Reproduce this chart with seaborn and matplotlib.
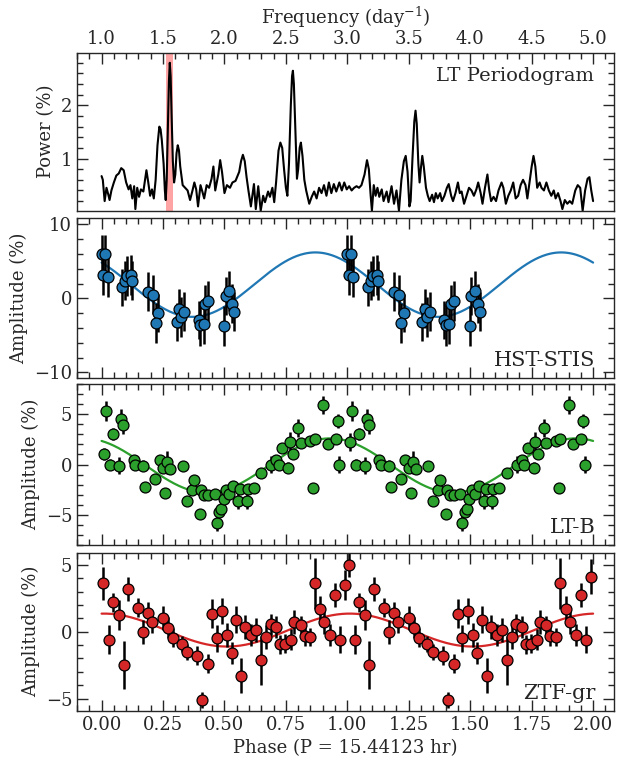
import numpy as np
import pandas as pd
import matplotlib
matplotlib.use("Agg")
import matplotlib.pyplot as plt
import seaborn as sns
from matplotlib.ticker import MultipleLocator, FormatStrFormatter

sns.set_style("ticks")
plt.rcParams['font.family'] = ['DejaVu Serif']
plt.rcParams['mathtext.fontset'] = 'dejavuserif'
plt.rcParams['xtick.direction'] = 'in'
plt.rcParams['ytick.direction'] = 'in'

# ---------------- data ----------------
# LT periodogram (frequency in 1/day, power in %)
pg_freq = [
    1.000, 1.010, 1.025, 1.040, 1.055, 1.065, 1.080, 1.100, 1.120, 1.140, 1.160, 1.180,
    1.200, 1.220, 1.235, 1.250, 1.265, 1.275, 1.290, 1.305, 1.320, 1.340, 1.365, 1.380,
    1.395, 1.410, 1.425, 1.440, 1.455, 1.470, 1.480, 1.490, 1.505, 1.515, 1.522, 1.530,
    1.540, 1.548, 1.555, 1.562, 1.570, 1.580, 1.590, 1.600, 1.610, 1.620, 1.630, 1.640,
    1.660, 1.680, 1.700, 1.720, 1.740, 1.755, 1.770, 1.785, 1.805, 1.820, 1.835, 1.855,
    1.875, 1.895, 1.910, 1.925, 1.950, 1.965, 1.980, 2.000, 2.020, 2.045, 2.065, 2.090,
    2.120, 2.135, 2.150, 2.165, 2.180, 2.195, 2.215, 2.240, 2.255, 2.275, 2.295, 2.315,
    2.330, 2.355, 2.370, 2.390, 2.405, 2.420, 2.440, 2.455, 2.470, 2.485, 2.500, 2.512,
    2.525, 2.540, 2.550, 2.557, 2.565, 2.575, 2.590, 2.600, 2.612, 2.622, 2.635, 2.650,
    2.665, 2.690, 2.710, 2.730, 2.750, 2.770, 2.790, 2.810, 2.830, 2.850, 2.870, 2.890,
    2.910, 2.935, 2.955, 2.975, 2.995, 3.015, 3.035, 3.055, 3.075, 3.095, 3.115, 3.140,
    3.160, 3.175, 3.190, 3.200, 3.215, 3.230, 3.245, 3.260, 3.280, 3.295, 3.320, 3.335,
    3.360, 3.380, 3.400, 3.420, 3.440, 3.460, 3.475, 3.490, 3.505, 3.515, 3.530, 3.545,
    3.555, 3.565, 3.578, 3.588, 3.600, 3.610, 3.622, 3.640, 3.655, 3.670, 3.690, 3.705,
    3.720, 3.735, 3.755, 3.770, 3.790, 3.810, 3.825, 3.845, 3.860, 3.880, 3.900, 3.915,
    3.930, 3.950, 3.970, 3.990, 4.010, 4.030, 4.050, 4.065, 4.085, 4.100, 4.120, 4.140,
    4.155, 4.170, 4.190, 4.210, 4.230, 4.255, 4.270, 4.290, 4.310, 4.330, 4.350, 4.370,
    4.390, 4.410, 4.430, 4.450, 4.465, 4.485, 4.500, 4.515, 4.530, 4.545, 4.565, 4.580,
    4.600, 4.620, 4.640, 4.660, 4.680, 4.695, 4.715, 4.735, 4.750, 4.770, 4.790, 4.810,
    4.830, 4.855, 4.875, 4.895, 4.915, 4.935, 4.955, 4.970, 4.985, 5.000]
pg_power = [
    0.67, 0.60, 0.20, 0.45, 0.32, 0.22, 0.40, 0.55, 0.68, 0.72, 0.82, 0.78,
    0.55, 0.42, 0.50, 0.25, 0.48, 0.05, 0.45, 0.28, 0.42, 0.38, 0.78, 0.55,
    0.30, 0.42, 0.25, 0.60, 1.25, 1.60, 1.55, 1.35, 0.90, 0.40, 0.22, 0.60,
    1.60, 2.45, 2.80, 2.55, 1.80, 0.95, 0.55, 0.70, 1.10, 1.25, 1.15, 0.85,
    0.50, 0.45, 0.40, 0.22, 0.40, 0.55, 0.42, 0.10, 0.50, 0.38, 0.25, 0.50,
    0.45, 0.62, 0.85, 0.40, 0.70, 0.97, 0.75, 0.35, 0.50, 0.45, 0.55, 0.58,
    0.75, 0.95, 1.07, 0.95, 0.65, 0.40, 0.10, 0.52, 0.05, 0.48, 0.02, 0.30,
    0.18, 0.38, 0.28, 0.45, 0.18, 0.55, 1.15, 1.30, 1.20, 0.80, 0.45, 0.30,
    0.90, 2.00, 2.55, 2.65, 2.40, 1.70, 0.62, 0.80, 1.20, 1.30, 1.05, 0.60,
    0.40, 0.15, 0.28, 0.38, 0.25, 0.45, 0.35, 0.50, 0.30, 0.55, 0.35, 0.52,
    0.38, 0.55, 0.40, 0.55, 0.42, 0.48, 0.40, 0.45, 0.48, 0.45, 0.50, 0.70,
    0.97, 0.80, 0.30, 0.02, 0.50, 0.30, 0.45, 0.28, 0.42, 0.20, 0.38, 0.18,
    0.48, 0.15, 0.40, 0.02, 0.60, 0.95, 1.05, 0.75, 0.10, 0.20, 1.00, 1.70,
    1.90, 1.65, 0.90, 0.55, 0.85, 1.05, 0.85, 0.45, 0.30, 0.20, 0.32, 0.18,
    0.35, 0.25, 0.35, 0.20, 0.30, 0.45, 0.52, 0.30, 0.20, 0.35, 0.55, 0.35,
    0.38, 0.15, 0.30, 0.45, 0.40, 0.30, 0.42, 0.55, 0.35, 0.15, 0.45, 0.70,
    0.40, 0.20, 0.28, 0.20, 0.40, 0.55, 0.45, 0.15, 0.30, 0.40, 0.55, 0.25,
    0.30, 0.50, 0.60, 0.50, 0.25, 0.60, 0.85, 1.05, 0.85, 0.45, 0.55, 0.45,
    0.40, 0.55, 0.40, 0.30, 0.40, 0.25, 0.35, 0.20, 0.05, 0.22, 0.15, 0.20,
    0.15, 0.40, 0.50, 0.45, 0.02, 0.40, 0.62, 0.65, 0.40, 0.20]
pg_band = [1.527, 1.585]   # highlighted frequency

# HST-STIS (one cycle of phase)
hst_phase = [0.000, 0.015, 0.005, 0.025, 0.085, 0.095, 0.105, 0.120, 0.125, 0.190, 0.210,
             0.230, 0.220, 0.305, 0.315, 0.325, 0.335, 0.395, 0.400, 0.415, 0.420, 0.435,
             0.500, 0.505, 0.520, 0.530, 0.540]
hst_amp = [6.0, 6.0, 3.2, 2.9, 1.5, 2.4, 3.0, 3.2, 2.4, 0.9, 0.5,
           -2.0, -3.3, -3.2, -1.4, -2.5, -1.8, -2.9, -3.6, -3.4, -0.8, -0.4,
           -3.8, 0.3, 1.0, -0.7, -1.8]
hst_err = [2.6, 2.6, 2.7, 2.7, 2.5, 2.6, 2.7, 2.7, 2.6, 2.6, 2.6,
           2.6, 2.7, 2.6, 2.6, 2.7, 2.6, 2.6, 2.8, 2.7, 2.6, 2.7,
           2.7, 2.6, 2.7, 2.6, 2.6]
hst_fit = dict(mean=1.85, amp=4.35, peak=0.87)

# LT-B
ltb_phase = [0.010, 0.020, 0.036, 0.048, 0.070, 0.080, 0.088, 0.130, 0.138, 0.170,
             0.177, 0.217, 0.236, 0.250, 0.258, 0.268, 0.280, 0.330, 0.348, 0.368,
             0.378, 0.400, 0.406, 0.417, 0.435, 0.460, 0.468, 0.478, 0.487, 0.497,
             0.507, 0.519, 0.536, 0.555, 0.565, 0.590, 0.594, 0.619, 0.650, 0.690,
             0.710, 0.720, 0.736, 0.760, 0.765, 0.777, 0.800, 0.810, 0.848, 0.860,
             0.867, 0.900, 0.920, 0.952, 0.960, 0.968]
ltb_amp = [1.0, 5.3, 0.0, 3.0, -0.1, 4.5, 3.9, 0.4, 0.0, -0.1,
           -2.2, -1.4, 0.45, -0.3, -2.8, 0.2, -0.4, -0.15, -3.6, -2.5,
           -1.5, -4.9, -2.5, -3.0, -3.0, -2.9, -5.8, -4.7, -4.4, -3.4,
           -2.5, -2.9, -2.1, -3.6, -2.4, -3.6, -2.4, -2.3, -0.8, 0.0,
           0.4, 0.0, 1.6, -0.3, 2.2, 1.0, 3.6, 2.1, 2.3, -2.3,
           2.5, 5.9, 2.0, 2.5, 4.3, 0.0]
ltb_err = [0.6, 1.0, 0.5, 0.6, 0.8, 1.0, 0.9, 0.5, 0.5, 0.5,
           0.5, 0.5, 0.5, 0.5, 0.5, 1.1, 0.5, 0.5, 0.5, 0.5,
           0.5, 0.5, 0.5, 0.5, 0.5, 0.5, 0.8, 0.5, 0.5, 0.5,
           0.5, 0.5, 0.5, 0.8, 0.5, 0.8, 0.5, 0.5, 0.5, 0.8,
           0.5, 0.5, 0.5, 0.5, 1.0, 0.5, 0.9, 0.5, 0.5, 0.5,
           0.5, 0.9, 0.5, 0.5, 0.7, 0.8]
ltb_cycle2_edge = {0: (2.2, 0.9)}   # first bin differs on the second plotted cycle
ltb_fit = dict(mean=-0.1, amp=2.7, peak=0.93)

# ZTF-gr
ztf_phase = [0.007, 0.032, 0.048, 0.070, 0.090, 0.109, 0.149, 0.170, 0.190, 0.207,
             0.250, 0.270, 0.290, 0.326, 0.348, 0.390, 0.409, 0.432, 0.449, 0.468,
             0.490, 0.510, 0.529, 0.546, 0.568, 0.583, 0.609, 0.630, 0.649, 0.671,
             0.688, 0.710, 0.725, 0.748, 0.771, 0.783, 0.810, 0.826, 0.848, 0.867,
             0.888, 0.906, 0.930, 0.949, 0.971, 0.990]
ztf_amp = [3.6, -0.6, 2.2, 1.25, -2.5, 3.2, 1.8, 0.0, 1.4, 0.7,
           1.0, 0.3, -0.45, -0.9, -1.5, -1.8, -5.1, -2.4, 1.35, -0.5,
           1.55, -0.25, -1.6, 0.9, -3.3, 0.35, -0.25, 0.1, -2.15, -0.4,
           0.55, 0.35, -0.95, -0.9, -0.6, 0.75, 0.5, -0.3, -0.4, 3.6,
           1.7, 0.75, -0.25, 2.75, -0.6, 3.5]
ztf_err = [1.25, 1.1, 0.7, 1.1, 1.8, 0.9, 0.7, 0.9, 0.8, 0.8,
           0.9, 0.8, 0.7, 0.6, 0.6, 0.7, 0.6, 0.7, 1.1, 1.0,
           1.0, 0.9, 0.8, 1.0, 1.3, 0.9, 0.8, 0.9, 1.8, 0.9,
           0.8, 0.8, 0.7, 0.7, 0.8, 0.9, 0.7, 0.8, 0.7, 1.9,
           1.0, 0.9, 0.8, 0.9, 1.0, 1.1]
ztf_cycle2_edge = {0: (5.0, 0.9), 45: (4.1, 1.3)}
ztf_fit = dict(mean=0.12, amp=1.23, peak=0.01)

period_hr = "15.44123"

# ---------------- helpers ----------------
def two_cycles(phase, amp, err, edge):
    amp2, err2 = list(amp), list(err)
    for i, (a, e) in edge.items():
        amp2[i], err2[i] = a, e
    return pd.DataFrame({
        "phase": list(phase) + [p + 1 for p in phase],
        "amp": list(amp) + amp2,
        "err": list(err) + err2,
    })

def fit_curve(fit):
    ph = np.linspace(0, 2, 500)
    return pd.DataFrame({"phase": ph,
                         "amp": fit["mean"] + fit["amp"] * np.cos(2 * np.pi * (ph - fit["peak"]))})

def style(ax, ymaj, ymin):
    ax.yaxis.set_major_locator(MultipleLocator(ymaj))
    ax.yaxis.set_minor_locator(MultipleLocator(ymin))
    ax.tick_params(which="both", direction="in", top=True, right=True, left=True,
                   bottom=True, labelsize=13, width=1)
    ax.tick_params(which="major", length=8)
    ax.tick_params(which="minor", length=4)
    for s in ax.spines.values():
        s.set_linewidth(1.0)

fig = plt.figure(figsize=(6.19, 7.60), dpi=100)
L, W = 0.1244, 0.8675
ax1 = fig.add_axes([L, 0.7228, W, 0.2079])
ax2 = fig.add_axes([L, 0.5022, W, 0.2105])
ax3 = fig.add_axes([L, 0.2829, W, 0.2118])
ax4 = fig.add_axes([L, 0.0649, W, 0.2079])

# periodogram
pg = pd.DataFrame({"freq": pg_freq, "power": pg_power})
ax1.axvspan(pg_band[0], pg_band[1], color="#ff9a9a", alpha=0.9, lw=0, zorder=1)
sns.lineplot(data=pg, x="freq", y="power", ax=ax1, color="black", lw=1.5, zorder=2)
ax1.set_xlim(0.8, 5.17)
ax1.set_ylim(0.02, 2.99)
ax1.xaxis.set_major_locator(MultipleLocator(0.5))
ax1.xaxis.set_minor_locator(MultipleLocator(0.1))
style(ax1, 1, 0.2)
ax1.tick_params(axis="x", which="both", top=True, bottom=False, labeltop=True, labelbottom=False)
ax1.xaxis.set_label_position("top")
ax1.set_xlabel(r"Frequency (day$^{-1}$)", fontsize=13)
ax1.set_ylabel("Power (%)", fontsize=13)
ax1.text(0.962, 0.91, "LT Periodogram", transform=ax1.transAxes, ha="right", va="top", fontsize=14)

panels = [
    (ax2, two_cycles(hst_phase, hst_amp, hst_err, {}), hst_fit, "#1f77b4", "HST-STIS", (-10.8, 10.8), 10, 2),
    (ax3, two_cycles(ltb_phase, ltb_amp, ltb_err, ltb_cycle2_edge), ltb_fit, "#2ca02c", "LT-B", (-8, 8), 5, 1),
    (ax4, two_cycles(ztf_phase, ztf_amp, ztf_err, ztf_cycle2_edge), ztf_fit, "#d62728", "ZTF-gr", (-5.9, 5.9), 5, 1),
]
for ax, df, fit, col, name, ylim, ymaj, ymin in panels:
    sns.lineplot(data=fit_curve(fit), x="phase", y="amp", ax=ax, color=col, lw=1.6, zorder=1)
    ax.errorbar(df["phase"], df["amp"], yerr=df["err"], fmt="none", ecolor="black",
                elinewidth=1.8, capsize=0, zorder=2)
    sns.scatterplot(data=df, x="phase", y="amp", ax=ax, color=col, edgecolor="black",
                    linewidth=0.9, s=62, zorder=3)
    ax.set_xlim(-0.1, 2.085)
    ax.set_ylim(*ylim)
    ax.xaxis.set_major_locator(MultipleLocator(0.25))
    ax.xaxis.set_minor_locator(MultipleLocator(0.05))
    style(ax, ymaj, ymin)
    ax.set_ylabel("Amplitude (%)", fontsize=13)
    ax.set_xlabel("")
    ax.text(0.965, 0.05, name, transform=ax.transAxes, ha="right", va="bottom", fontsize=15)
    if ax is not ax4:
        ax.tick_params(axis="x", labelbottom=False)

ax4.xaxis.set_major_formatter(FormatStrFormatter("%.2f"))
ax4.set_xlabel(f"Phase (P = {period_hr} hr)", fontsize=13)

fig.savefig("out.png", dpi=100)
